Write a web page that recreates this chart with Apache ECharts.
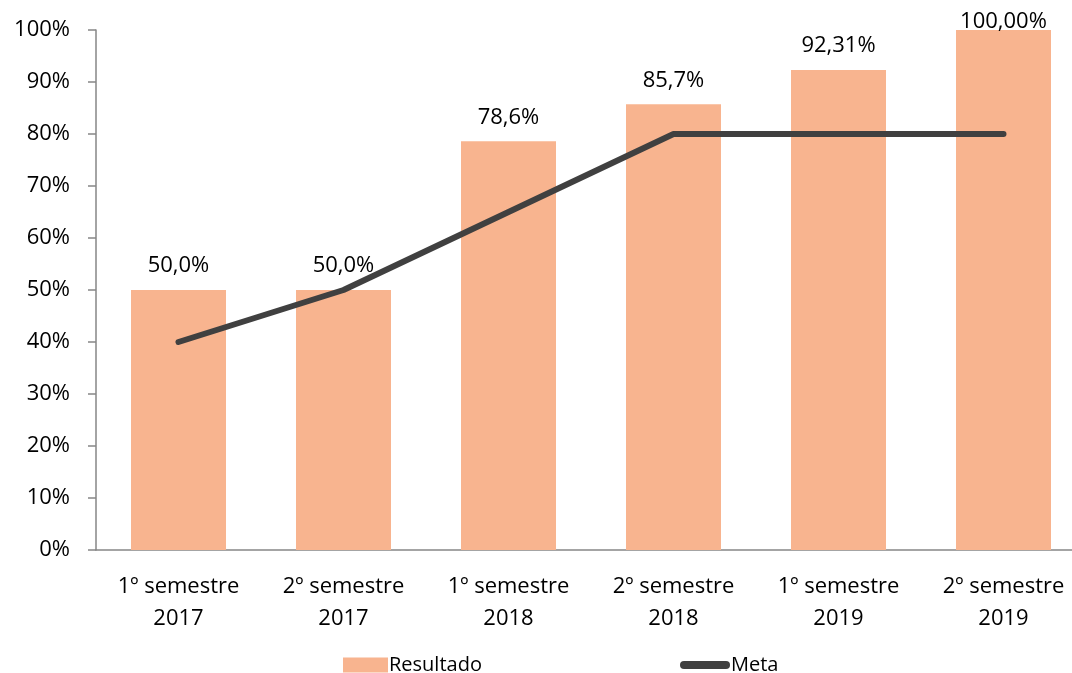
<!DOCTYPE html>
<html><head><meta charset="utf-8">
<script src="https://cdn.jsdelivr.net/npm/echarts@6/dist/echarts.min.js"></script>
<style>html,body{margin:0;padding:0;background:#fff}#c{width:1072px;height:673px}</style>
</head><body><div id="c"></div>
<script>
var categories = ['1º semestre\n2017','2º semestre\n2017','1º semestre\n2018','2º semestre\n2018','1º semestre\n2019','2º semestre\n2019'];
var resultado = [50.0, 50.0, 78.6, 85.7, 92.31, 100.0];
var resultadoLabels = ['50,0%','50,0%','78,6%','85,7%','92,31%','100,00%'];
var meta = [40, 50, 65, 80, 80, 80];
var yTicks = [0,10,20,30,40,50,60,70,80,90,100];

var FONT = 'Open Sans';
var chart = echarts.init(document.getElementById('c'), null, {renderer:'canvas'});
chart.setOption({
  animation:false,
  textStyle:{fontFamily:FONT},
  grid:{left:96, top:30, right:-14, bottom:123, containLabel:false, outerBoundsMode:'none'},
  legend:[{
    data:[{name:'Resultado', icon:'rect'}], left:338, top:650, itemWidth:45, itemHeight:15, itemGap:5,
    textStyle:{fontSize:20, color:'#000', fontFamily:FONT, padding:[0,0,0,-4]}
  },{
    data:[{name:'Meta', icon:'path://M4,0 L46,0 A4,4 0 0 1 46,8 L4,8 A4,4 0 0 1 4,0 Z'}], left:675, top:650, itemWidth:50, itemHeight:8,
    textStyle:{fontSize:20, color:'#000', fontFamily:FONT, padding:[0,0,0,-4]}
  }],
  xAxis:{
    type:'category', data:categories,
    axisLine:{lineStyle:{color:'#868686', width:1.5}},
    axisTick:{show:false},
    axisLabel:{fontSize:22, color:'#000', lineHeight:32, margin:21, interval:0, fontFamily:FONT}
  },
  yAxis:{
    type:'value', min:0, max:100, interval:10,
    axisLine:{show:true, lineStyle:{color:'#868686', width:1.5}},
    axisTick:{show:true, length:8, lineStyle:{color:'#868686', width:1.5}},
    splitLine:{show:false},
    axisLabel:{fontSize:22, color:'#000', margin:26, fontFamily:FONT,
      formatter:function(v){return yTicks.indexOf(v)>=0 ? v+'%' : '';}}
  },
  series:[{
    name:'Resultado', type:'bar', barWidth:95,
    itemStyle:{color:'#F8B48F'},
    data:resultado.map(function(v,i){
      var d={value:v};
      if(i===resultado.length-1){d.label={distance:-3};}
      return d;
    }),
    label:{show:true, position:'top', distance:13, fontSize:22, color:'#000', fontFamily:FONT,
      formatter:function(p){return resultadoLabels[p.dataIndex];}}
  },{
    name:'Meta', type:'line', data:meta, symbol:'none', z:5,
    lineStyle:{color:'#404040', width:6, cap:'round', join:'round'},
    itemStyle:{color:'#404040'}
  }]
});
</script></body></html>
